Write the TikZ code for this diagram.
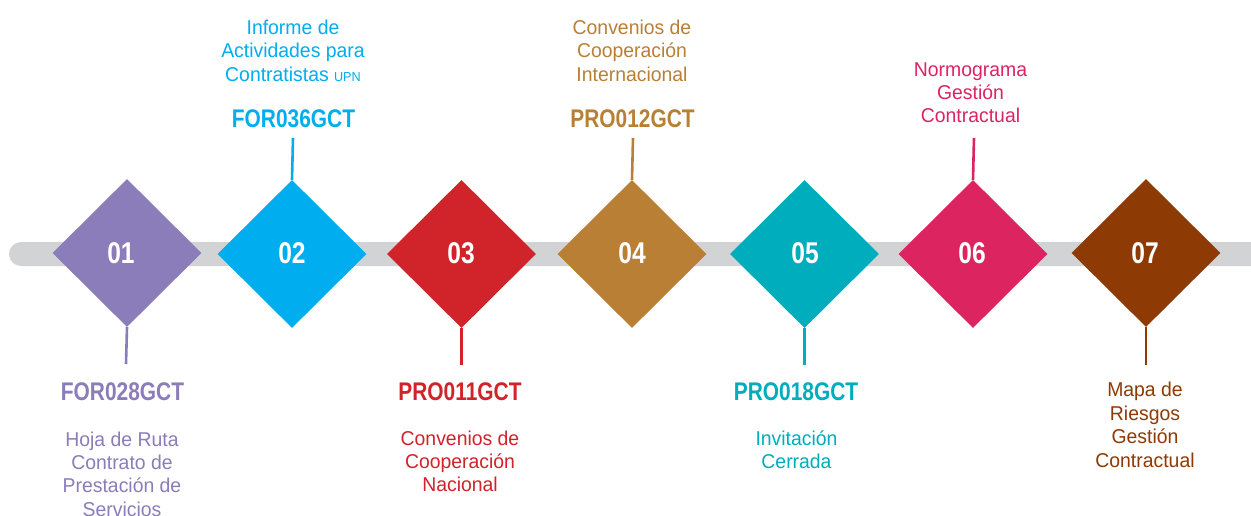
\documentclass[tikz,border=0pt]{standalone}
\usepackage{fontspec}
\setmainfont{Liberation Sans}
\newfontfamily\descfont{Liberation Sans}[FakeStretch=0.97]
\newfontfamily\codefont{Liberation Sans}[FakeStretch=0.82]
\usetikzlibrary{shapes.geometric}
\definecolor{cPur}{HTML}{8B7DBA}
\definecolor{cCya}{HTML}{00AEEF}
\definecolor{cRed}{HTML}{D1232A}
\definecolor{cGol}{HTML}{B98035}
\definecolor{cTea}{HTML}{00ADBD}
\definecolor{cMag}{HTML}{DC2461}
\definecolor{cBro}{HTML}{8D3A04}
\definecolor{cBar}{HTML}{D1D3D4}
\tikzset{
  dia/.style={diamond,aspect=1,inner sep=0pt,minimum width=149pt,minimum height=148pt,fill=#1,draw=none},
  num/.style={text=white,inner sep=0pt,anchor=base,font=\codefont\bfseries\fontsize{30}{34}\selectfont},
  code/.style={text=#1,inner sep=0pt,anchor=base,font=\codefont\bfseries\fontsize{25.5}{28}\selectfont},
  desc/.style={text=#1,inner sep=0pt,anchor=north,align=center,font=\descfont\fontsize{20}{23.4}\selectfont},
  conn/.style={draw=#1,line width=2.6pt}
}
\begin{document}
\begin{tikzpicture}[x=1pt,y=-1pt]
\useasboundingbox (0,0) rectangle (1251,516);
\fill[white] (0,0) rectangle (1251,516);
% bar
\fill[cBar,rounded corners=12pt] (9,242) rectangle (1275,266);
% diamonds
\node[dia=cPur] (d1) at (127,253) {};
\node[dia=cCya] (d2) at (292,254) {};
\node[dia=cRed] (d3) at (461.5,254) {};
\node[dia=cGol] (d4) at (632,254) {};
\node[dia=cTea] (d5) at (804.5,254) {};
\node[dia=cMag] (d6) at (973,254) {};
\node[dia=cBro] (d7) at (1146,253) {};
% numbers
\node[num] (n1) at (121,263) {01};
\node[num] (n2) at (292,263) {02};
\node[num] (n3) at (461,263) {03};
\node[num] (n4) at (632,263) {04};
\node[num] (n5) at (805,263) {05};
\node[num] (n6) at (972,263) {06};
\node[num] (n7) at (1145,263) {07};
% connector ends
\coordinate (e1) at (126,364);
\coordinate (e2) at (293,138);
\coordinate (e3) at (461.5,365);
\coordinate (e4) at (633,138);
\coordinate (e5) at (804.5,365);
\coordinate (e6) at (974,138);
\coordinate (e7) at (1146,365);
\draw[conn=cPur] (d1.south) -- (e1);
\draw[conn=cCya] (d2.north) -- (e2);
\draw[conn=cRed] (d3.south) -- (e3);
\draw[conn=cGol] (d4.north) -- (e4);
\draw[conn=cTea] (d5.south) -- (e5);
\draw[conn=cMag] (d6.north) -- (e6);
\draw[conn=cBro] (d7.south) -- (e7);
% codes
\node[code=cPur] (c1) at (122.5,400) {FOR028GCT};
\node[code=cCya] (c2) at (293.5,128) {FOR036GCT};
\node[code=cRed] (c3) at (460,400) {PRO011GCT};
\node[code=cGol] (c4) at (632.5,128) {PRO012GCT};
\node[code=cTea] (c5) at (796,400) {PRO018GCT};
% descriptions
\node[desc=cPur] (t1) at (122,429.6) {\strut Hoja de Ruta\\Contrato de\\Prestación de\\Servicios};
\node[desc=cCya] (t2) at (293,17.9) {\strut Informe de\\Actividades para\\Contratistas {\fontsize{13}{15}\selectfont UPN}};
\node[desc=cRed] (t3) at (460,428.6) {\strut Convenios de\\Cooperación\\Nacional};
\node[desc=cGol] (t4) at (632,17.9) {\strut Convenios de\\Cooperación\\Internacional};
\node[desc=cTea] (t5) at (796.5,428.6) {\strut Invitación\\Cerrada};
\node[desc=cMag] (t6) at (970.5,59.6) {\strut Normograma\\Gestión\\Contractual};
\node[desc=cBro] (t7) at (1145,380.3) {\strut Mapa de\\Riesgos\\Gestión\\Contractual};
\end{tikzpicture}
\end{document}
